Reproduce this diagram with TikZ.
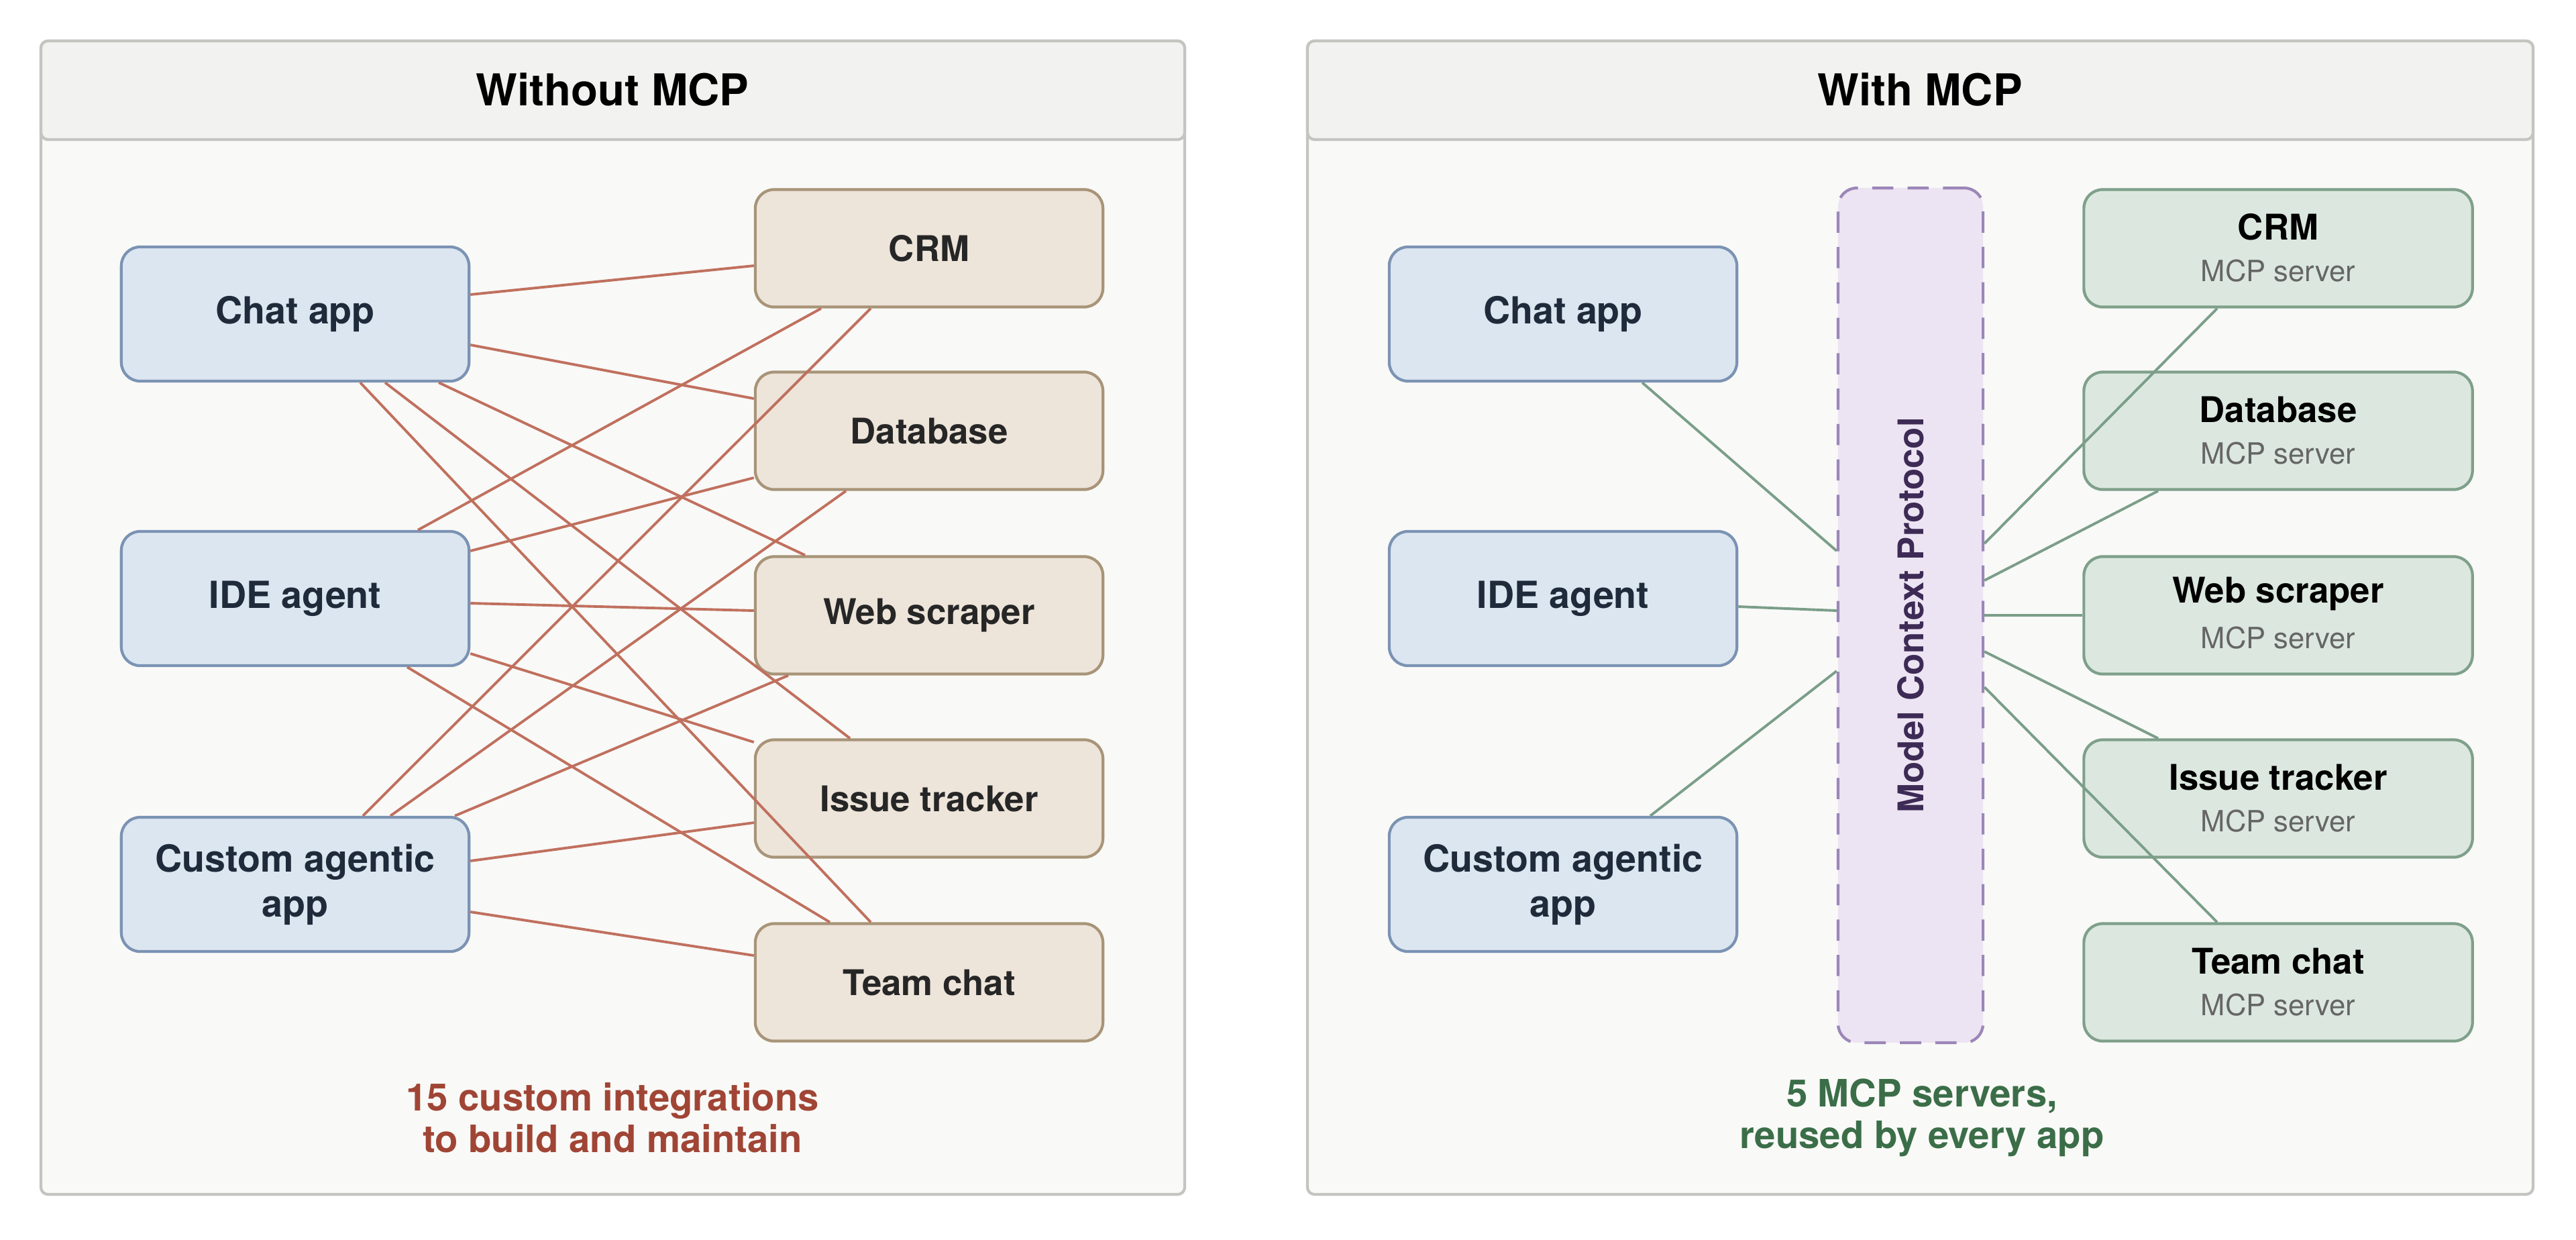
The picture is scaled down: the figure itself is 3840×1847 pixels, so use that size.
\documentclass[tikz,border=0pt]{standalone}
\usepackage{fontspec}
\setmainfont{TeX Gyre Heros}
\usetikzlibrary{calc}
\definecolor{appfill}{HTML}{DCE6F0}
\definecolor{appdraw}{HTML}{7B93B3}
\definecolor{resfill}{HTML}{EDE4DA}
\definecolor{resdraw}{HTML}{A89478}
\definecolor{srvfill}{HTML}{DCE8DF}
\definecolor{srvdraw}{HTML}{7FA08A}
\definecolor{redline}{HTML}{C0705E}
\definecolor{greenline}{HTML}{7A9E89}
\definecolor{barfill}{HTML}{ECE4F2}
\definecolor{bardraw}{HTML}{9C86B8}
\definecolor{bartext}{HTML}{3D2A55}
\definecolor{redtext}{HTML}{A04535}
\definecolor{greentext}{HTML}{3B6E48}
\definecolor{panelfill}{HTML}{F9F9F7}
\definecolor{headfill}{HTML}{F2F2F0}
\definecolor{paneldraw}{HTML}{C4C4C0}
\definecolor{apptext}{HTML}{1F2A3A}
\tikzset{
  appbox/.style={draw=appdraw,fill=appfill,line width=1.2pt,rounded corners=8pt,minimum width=5.18cm,minimum height=2cm,align=center,font=\fontsize{15.8}{19}\selectfont\bfseries,text=apptext},
  resbox/.style={draw=resdraw,fill=resfill,line width=1.2pt,rounded corners=8pt,minimum width=5.18cm,minimum height=1.75cm,align=center,font=\fontsize{15}{18}\selectfont\bfseries,text=black!85},
  srvbox/.style={draw=srvdraw,fill=srvfill,line width=1.2pt,rounded corners=8pt,minimum width=5.79cm,minimum height=1.75cm},
  redlink/.style={redline,line width=1.1pt},
  greenlink/.style={greenline,line width=1.1pt},
}
\begin{document}
\begin{tikzpicture}[x=0.01cm,y=-0.01cm]
\useasboundingbox (0,0) rectangle (3840,1847);
\fill[white] (0,0) rectangle (3840,1847);
% panels
\draw[paneldraw,line width=1.2pt,fill=panelfill,rounded corners=3pt] (61,61) rectangle (1766,1780);
\draw[paneldraw,line width=1.2pt,fill=headfill,rounded corners=3pt] (61,61) rectangle (1766,208);
\draw[paneldraw,line width=1.2pt,fill=panelfill,rounded corners=3pt] (1949,61) rectangle (3776,1780);
\draw[paneldraw,line width=1.2pt,fill=headfill,rounded corners=3pt] (1949,61) rectangle (3776,208);
\node (ltitle) at (913,134) {\fontsize{18.6}{22}\selectfont\bfseries Without MCP};
\node (rtitle) at (2862,134) {\fontsize{18.6}{22}\selectfont\bfseries With MCP};

% without MCP
\node (chatL) at (440,468) [appbox]{Chat app};
\node (ideL) at (440,892) [appbox]{IDE agent};
\node (custL) at (440,1318) [appbox]{Custom agentic\\app};
\node (crmL) at (1385,370) [resbox]{CRM};
\node (dbL) at (1385,642) [resbox]{Database};
\node (webL) at (1385,917) [resbox]{Web scraper};
\node (issL) at (1385,1190) [resbox]{Issue tracker};
\node (teamL) at (1385,1464) [resbox]{Team chat};

\draw[redlink] ($(chatL.east)+(0,-29)$)--($(crmL.west)+(0,26)$);
\draw[redlink] ($(chatL.east)+(0,46)$)--($(dbL.west)+(0,-48)$);
\draw[redlink] ($(chatL.south)+(214,0)$)--($(webL.north)+(-185,0)$);
\draw[redlink] ($(chatL.south)+(134,0)$)--($(issL.north)+(-118,0)$);
\draw[redlink] ($(chatL.south)+(97,0)$)--($(teamL.north)+(-87,0)$);
\draw[redlink] ($(ideL.north)+(183,0)$)--($(crmL.south)+(-161,0)$);
\draw[redlink] ($(ideL.east)+(0,-71)$)--($(dbL.west)+(0,70)$);
\draw[redlink] ($(ideL.east)+(0,7)$)--($(webL.west)+(0,-7)$);
\draw[redlink] ($(ideL.east)+(0,82)$)--($(issL.west)+(0,-84)$);
\draw[redlink] ($(ideL.south)+(167,0)$)--($(teamL.north)+(-148,0)$);
\draw[redlink] ($(custL.north)+(101,0)$)--($(crmL.south)+(-87,0)$);
\draw[redlink] ($(custL.north)+(142,0)$)--($(dbL.south)+(-124,0)$);
\draw[redlink] ($(custL.north)+(238,0)$)--($(webL.south)+(-210,0)$);
\draw[redlink] ($(custL.east)+(0,-35)$)--($(issL.west)+(0,36)$);
\draw[redlink] ($(custL.east)+(0,41)$)--($(teamL.west)+(0,-40)$);

\node (noteL) at (913,1666) [align=center,text=redtext,font=\fontsize{16}{17.5}\selectfont\bfseries]{15 custom integrations\\to build and maintain};

% with MCP
\node (chatR) at (2330,468) [appbox]{Chat app};
\node (ideR) at (2330,892) [appbox]{IDE agent};
\node (custR) at (2330,1318) [appbox]{Custom agentic\\app};
\node (mcp) at (2848,917) [draw=bardraw,fill=barfill,line width=1.2pt,dash pattern=on 9pt off 6pt,rounded corners=8pt,minimum width=2.16cm,minimum height=12.73cm]{};
\node (mcptext) at (mcp.center) [rotate=90,text=bartext,font=\fontsize{15}{18}\selectfont\bfseries]{Model Context Protocol};
\foreach \name/\txt/\y in {crmR/CRM/370,dbR/Database/642,webR/Web scraper/917,issR/Issue tracker/1190,teamR/Team chat/1464}{
  \node (\name) at (3396,\y) [srvbox]{};
  \node at ($(\name.center)+(0,-32)$) {\fontsize{15}{18}\selectfont\bfseries\txt};
  \node at ($(\name.center)+(0,34)$) [text=black!60]{\fontsize{12.4}{15}\selectfont MCP server};
}

\draw[greenlink] ($(chatR.south)+(118,0)$)--($(mcp.west)+(0,-96)$);
\draw[greenlink] ($(ideR.east)+(0,12)$)--($(mcp.west)+(0,-7)$);
\draw[greenlink] ($(custR.north)+(130,0)$)--($(mcp.west)+(0,83)$);
\draw[greenlink] ($(mcp.east)+(0,-107)$)--($(crmR.south)+(-91,0)$);
\draw[greenlink] ($(mcp.east)+(0,-52)$)--($(dbR.south)+(-179,0)$);
\draw[greenlink] (mcp.east)--(webR.west);
\draw[greenlink] ($(mcp.east)+(0,54)$)--($(issR.north)+(-179,0)$);
\draw[greenlink] ($(mcp.east)+(0,107)$)--($(teamR.north)+(-91,0)$);

\node (noteR) at (2865,1666) [align=center,text=greentext,font=\fontsize{16}{17.5}\selectfont\bfseries]{5 MCP servers,\\reused by every app};
\end{tikzpicture}
\end{document}
